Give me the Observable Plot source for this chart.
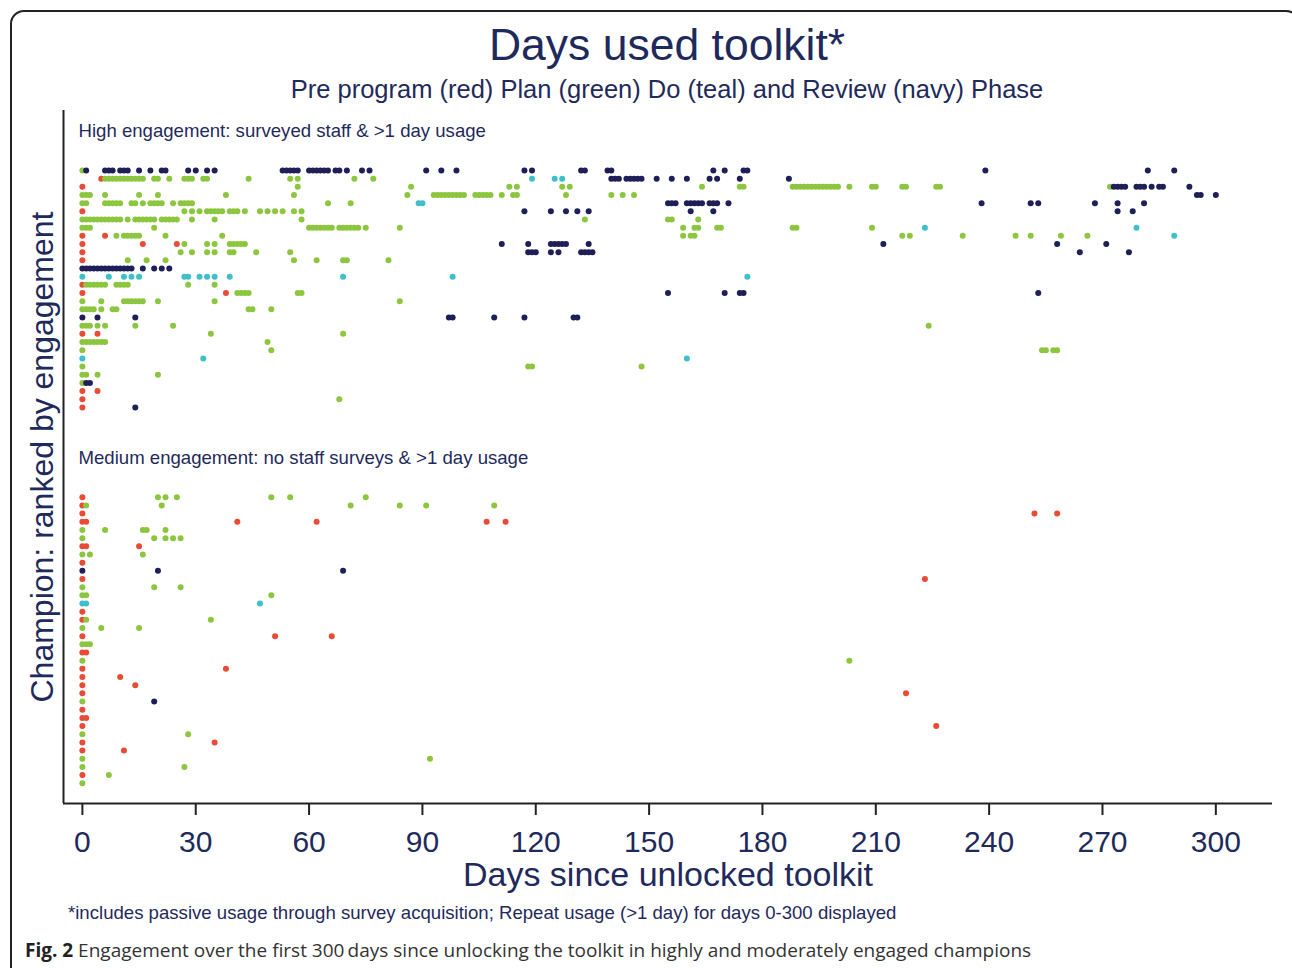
<!DOCTYPE html>
<html><head><meta charset="utf-8">
<script src="https://cdn.jsdelivr.net/npm/d3@7"></script>
<script src="https://cdn.jsdelivr.net/npm/@observablehq/plot@0.6"></script>
<style>
html,body{margin:0;padding:0;background:#fff;}
body{width:1292px;height:968px;overflow:hidden;position:relative;font-family:"Liberation Sans",Arial,sans-serif;color:#1f2a5c;}
#box{position:absolute;left:10px;top:10px;width:1290px;height:1000px;border:2px solid #222;border-radius:14px;box-sizing:border-box;}
.t{position:absolute;white-space:nowrap;line-height:1;}
#title{left:0;width:1334px;text-align:center;top:23px;font-size:44.5px;}
#subtitle{left:0;width:1334px;text-align:center;top:77px;font-size:25.5px;}
#chart{position:absolute;left:0;top:100px;}
#note{left:68px;top:904px;font-size:18.6px;}
#caption{left:25px;top:941px;font-size:19px;font-family:"Open Sans",sans-serif;color:#333;}
#caption b{color:#222;}
</style></head>
<body>
<div id="box"></div>
<div class="t" id="title">Days used toolkit*</div>
<div class="t" id="subtitle">Pre program (red) Plan (green) Do (teal) and Review (navy) Phase</div>
<div id="chart"></div>
<div class="t" id="note">*includes passive usage through survey acquisition; Repeat usage (&gt;1 day) for days 0-300 displayed</div>
<div class="t" id="caption"><b>Fig. 2</b> Engagement over the first 300&#8201;days since unlocking the toolkit in highly and moderately engaged champions</div>
<script>
// ---- Data: each entry is [championRow, day, day, ...] ----
const phases = ["Pre program", "Plan", "Do", "Review"];
const phaseColors = ["#e94b35", "#8cc63f", "#3fc0c8", "#1e1e58"];
const groupLabels = ["High engagement: surveyed staff & >1 day usage", "Medium engagement: no staff surveys & >1 day usage"];
const groupOffsets = [0, 40];
const xTicks = [0, 30, 60, 90, 120, 150, 180, 210, 240, 270, 300];

const highPre = [[1,5],[2,0],[5,0],[8,0,6],[9,0,16,25],[10,0],[11,0],[14,0],[15,0,38],[20,0,4],[27,0,4],[28,0],[29,0]];
const highPlan = [
  [0,0],
  [1,6,7,8,9,10,11,12,13,14,15,16,19,20,23,27,28,29,32,33,44,55,57,72,77],
  [2,57,87,113,115,127,129,164,174,175,188,189,190,191,192,193,194,195,196,197,198,199,200,203,209,210,217,218,226,227,272],
  [3,0,1,2,6,15,20,38,56,86,93,94,95,96,97,98,99,100,101,104,105,106,107,108,111,114,115,128,140,143,146],
  [4,0,1,6,7,8,9,10,13,14,16,18,19,20,21,24,26,27,28,29,65,71],
  [5,27,29,31,33,34,35,36,37,39,40,41,43,47,49,51,53,56,58],
  [6,0,1,2,3,4,5,6,7,8,9,10,12,14,15,16,17,18,19,21,22,23,24,25,29,35,58,133,155,156,163],
  [7,0,1,2,19,60,61,62,63,64,65,66,68,69,70,71,72,73,75,84,159,162,163,168,169,188,189,209],
  [8,9,11,12,13,14,15,22,37,159,161,162,217,219,233,247,251,259,266],
  [9,27,33,35,39,40,41,42,43],
  [10,26,29,33,35,39,40,46,55],
  [11,12,17,22,56,62,69,70,81],
  [14,1,2,3,4,5,6,9,10,11,12,28,35],
  [15,41,42,43,44,57,58],
  [16,0,5,11,12,13,14,15,16,20,35,84],
  [17,0,1,2,3,5,8,9,44,45,50],
  [19,0,1,2,4,6,14,24,224],
  [20,34,69],
  [21,0,1,2,3,4,5,6,49],
  [22,0,50,254,255,257,258],
  [24,0,118,119,148],
  [25,0,1,4,20],
  [26,0],
  [28,68]
];
const highDo = [[1,119,125,127],[4,89,90],[7,223,279],[8,289],[13,0,7,11,13,15,27,28,31,33,35,39,69,98,176],[23,0,32,160]];
const highReview = [
  [0,1,6,7,8,10,11,12,15,18,21,22,28,30,33,35,53,54,55,56,57,60,61,62,63,64,65,67,68,70,74,76,91,95,99,117,119,132,133,139,140,167,170,175,176,239,282,289],
  [1,140,141,142,144,145,146,147,148,152,156,160,166,168,174,187],
  [2,273,274,275,276,279,280,281,283,285,286,293],
  [3,295,296,300],
  [4,155,156,157,160,161,162,163,164,166,167,168,171,238,251,253,268,274,281],
  [5,117,124,128,131,134,161,167,274,278],
  [9,111,118,124,125,126,127,128,134,212,258,271],
  [10,118,119,120,124,126,132,133,134,135,264,277],
  [12,0,1,2,3,4,5,6,7,8,9,10,11,12,13,16,19,21,23],
  [15,155,170,174,175,253],
  [18,0,4,14,97,98,109,117,130,131],
  [26,1,2],
  [29,14]
];

const medPre = [[0,0],[1,0],[2,0,252,258],[3,0,1,41,62,107,112],[6,0,1,15],[8,0],[10,0,223],[14,0],[15,0],[17,0,51,66],[19,0,1],[21,0,38],[22,0,10],[23,0,14],[24,0,218],[26,0],[27,0,1],[28,0,226],[30,0,35],[31,0,11],[34,0]];
const medPlan = [[0,20,22,25,50,55,75],[1,1,21,71,84,91,109],[4,0,6,16,17,22],[5,0,19,22,24,26],[7,0,2,16],[11,0,19,26],[12,0,1,50],[15,1,34],[16,0,5,15],[18,0,1,2],[20,0,203],[25,0],[29,0,28],[32,0,92],[33,0,27],[34,7],[35,0]];
const medDo = [[13,0,1,47]];
const medReview = [[9,0,20,69],[25,19]];

// ---- Build table ----
const points = [];
function add(rows, group, phase) {
  for (const [row, ...days] of rows) for (const d of days) points.push({day: d, idx: groupOffsets[group] + row, phase});
}
[[highPre, 0, 0], [highPlan, 0, 1], [highDo, 0, 2], [highReview, 0, 3],
 [medPre, 1, 0], [medPlan, 1, 1], [medDo, 1, 2], [medReview, 1, 3]]
  .forEach(([rows, g, p]) => add(rows, g, phases[p]));
points.sort((a, b) => a.day - b.day);

const panels = groupLabels.map((label, i) => ({label, y: groupOffsets[i] - 4.8}));
const xDomain = [-5, 315];
const yDomain = [-7.34, 77.48];
const ink = "#1f2a5c";

const chart = Plot.plot({
  width: 1292,
  height: 800,
  marginLeft: 63,
  marginRight: 20,
  marginTop: 10,
  marginBottom: 97,
  style: {fontFamily: "'Liberation Sans', Arial, sans-serif", color: ink, background: "transparent", overflow: "visible"},
  x: {domain: xDomain},
  y: {domain: yDomain, reverse: true, axis: null},
  color: {domain: phases, range: phaseColors},
  marks: [
    Plot.axisX({ticks: xTicks, tickSize: 12, tickPadding: 15, fontSize: 30, stroke: "#222", strokeWidth: 2, fill: ink, label: null}),
    Plot.ruleX([xDomain[0]], {stroke: "#222", strokeWidth: 2}),
    Plot.ruleY([yDomain[1]], {stroke: "#222", strokeWidth: 2}),
    Plot.dot(points, {x: "day", y: "idx", r: 3, fill: "phase", stroke: null}),
    Plot.text(panels, {y: "y", text: "label", frameAnchor: "left", dx: 15, textAnchor: "start", fontSize: 18.6, fill: ink}),
    Plot.text(["Days since unlocked toolkit"], {frameAnchor: "bottom", dy: 72, fontSize: 34, fill: ink, lineAnchor: "middle"}),
    Plot.text(["Champion: ranked by engagement"], {frameAnchor: "left", rotate: -90, dx: -21, fontSize: 32, fill: ink, textAnchor: "middle", lineAnchor: "middle"})
  ]
});
document.getElementById("chart").appendChild(chart);
</script>
</body></html>
